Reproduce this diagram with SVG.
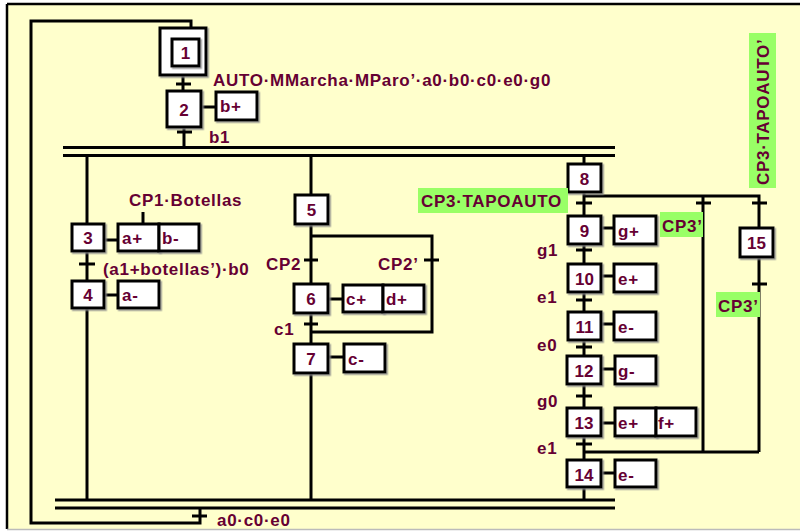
<svg xmlns="http://www.w3.org/2000/svg" width="800" height="531" viewBox="0 0 800 531">
<defs>
<filter id="sh" x="-20%" y="-20%" width="150%" height="150%">
<feDropShadow dx="1.5" dy="1.5" stdDeviation="0.4" flood-color="#888" flood-opacity="0.8"/>
</filter>
</defs>
<style>
.bx{fill:#fff;stroke:#000;stroke-width:3;filter:url(#sh)}
.ln{fill:none;stroke:#000;stroke-width:3}
.tk{fill:none;stroke:#000;stroke-width:3}
.t{font-family:"Liberation Sans",Arial,sans-serif;font-weight:bold;font-size:17px;fill:#660033;letter-spacing:0.7px}
.n{text-anchor:middle;letter-spacing:0}
.g{fill:#99FF66}
</style>
<rect x="0" y="0" width="800" height="531" fill="#fff"/>
<rect x="7" y="4" width="800" height="525" fill="#FFFFCC"/>
<line x1="7" y1="4" x2="800" y2="4" stroke="#000" stroke-width="2.5"/>
<line x1="7" y1="4" x2="7" y2="529" stroke="#000" stroke-width="2.5"/>
<line x1="7" y1="529.5" x2="800" y2="529.5" stroke="#bbb" stroke-width="1.5"/>

<g id="connectors">
<polyline class="ln" points="200,509 200,523 31,523 31,21 191,21 191,28"/>
<line class="tk" x1="192" y1="516" x2="207" y2="516"/>
<line class="ln" x1="183" y1="75" x2="183" y2="91"/>
<line class="tk" x1="176" y1="84" x2="191" y2="84"/>
<line class="ln" x1="184" y1="127" x2="184" y2="147"/>
<line class="tk" x1="177" y1="132" x2="192" y2="132"/>
<line class="ln" x1="201" y1="107" x2="216" y2="107"/>
<line class="ln" x1="63" y1="147.5" x2="615" y2="147.5"/>
<line class="ln" x1="63" y1="155.5" x2="615" y2="155.5"/>
<line class="ln" x1="87" y1="155" x2="87" y2="224"/>
<line class="ln" x1="87" y1="251" x2="87" y2="281"/>
<line class="ln" x1="87" y1="308" x2="87" y2="500"/>
<line class="tk" x1="79" y1="264" x2="95" y2="264"/>
<line class="ln" x1="104" y1="240" x2="118" y2="240"/>
<line class="ln" x1="104" y1="295" x2="118" y2="295"/>
<line class="ln" x1="143" y1="212" x2="143" y2="224"/>
<line class="ln" x1="311" y1="155" x2="311" y2="195"/>
<line class="ln" x1="311" y1="224" x2="311" y2="284"/>
<line class="ln" x1="311" y1="313" x2="311" y2="344"/>
<line class="ln" x1="311" y1="373" x2="311" y2="500"/>
<polyline class="ln" points="311,236 432,236 432,332 311,332"/>
<line class="tk" x1="304" y1="260" x2="318" y2="260"/>
<line class="tk" x1="424" y1="260" x2="439" y2="260"/>
<line class="tk" x1="304" y1="324" x2="318" y2="324"/>
<line class="ln" x1="328" y1="299" x2="343" y2="299"/>
<line class="ln" x1="328" y1="357" x2="344" y2="357"/>
<line class="ln" x1="584" y1="155" x2="584" y2="164"/>
<line class="ln" x1="584" y1="192" x2="584" y2="500"/>
<polyline class="ln" points="584,196 759,196 759,228"/>
<line class="ln" x1="703" y1="196" x2="703" y2="452"/>
<line class="ln" x1="759" y1="257" x2="759" y2="452"/>
<line class="ln" x1="584" y1="452" x2="759" y2="452"/>
<line class="tk" x1="576" y1="203" x2="592" y2="203"/>
<line class="tk" x1="696" y1="203" x2="711" y2="203"/>
<line class="tk" x1="752" y1="203" x2="767" y2="203"/>
<line class="tk" x1="752" y1="284" x2="767" y2="284"/>
<line class="tk" x1="576" y1="250" x2="592" y2="250"/>
<line class="tk" x1="576" y1="300" x2="592" y2="300"/>
<line class="tk" x1="576" y1="347" x2="592" y2="347"/>
<line class="tk" x1="576" y1="396" x2="592" y2="396"/>
<line class="tk" x1="576" y1="444" x2="592" y2="444"/>
<line class="ln" x1="601" y1="228" x2="614" y2="228"/>
<line class="ln" x1="601" y1="276" x2="614" y2="276"/>
<line class="ln" x1="601" y1="324" x2="614" y2="324"/>
<line class="ln" x1="601" y1="369" x2="615" y2="369"/>
<line class="ln" x1="601" y1="423" x2="615" y2="423"/>
<line class="ln" x1="601" y1="473" x2="615" y2="473"/>
<line class="ln" x1="55" y1="500" x2="615" y2="500"/>
<line class="ln" x1="55" y1="508" x2="615" y2="508"/>
</g>

<g id="step1"><rect class="bx" x="160" y="28" width="46" height="47"/><rect class="bx" x="172" y="39" width="27" height="27"/><text class="t n" x="185.5" y="59">1</text></g>
<g id="step2"><rect class="bx" x="167" y="91" width="34" height="36"/><text class="t n" x="184" y="116">2</text></g>
<g id="act2"><rect class="bx" x="216" y="92" width="41" height="28"/><text class="t" x="220" y="112">b+</text></g>
<g id="step3"><rect class="bx" x="72" y="224" width="32" height="27"/><text class="t n" x="88" y="243.5">3</text></g>
<g id="act3"><rect class="bx" x="118" y="224" width="41" height="27"/><rect class="bx" x="159" y="224" width="40" height="27"/><text class="t" x="122" y="243.5">a+</text><text class="t" x="162" y="243.5">b-</text></g>
<g id="step4"><rect class="bx" x="72" y="281" width="32" height="27"/><text class="t n" x="88" y="300.5">4</text></g>
<g id="act4"><rect class="bx" x="118" y="281" width="41" height="27"/><text class="t" x="122" y="300.5">a-</text></g>
<g id="step5"><rect class="bx" x="295" y="195" width="33" height="29"/><text class="t n" x="311.5" y="216">5</text></g>
<g id="step6"><rect class="bx" x="294" y="284" width="34" height="29"/><text class="t n" x="311" y="304.5">6</text></g>
<g id="act6"><rect class="bx" x="343" y="285" width="40" height="27"/><rect class="bx" x="383" y="285" width="41" height="27"/><text class="t" x="346" y="305">c+</text><text class="t" x="386" y="305">d+</text></g>
<g id="step7"><rect class="bx" x="294" y="344" width="34" height="29"/><text class="t n" x="311" y="365">7</text></g>
<g id="act7"><rect class="bx" x="344" y="344" width="41" height="28"/><text class="t" x="348" y="364.5">c-</text></g>
<g id="step8"><rect class="bx" x="568" y="164" width="33" height="28"/><text class="t n" x="584.5" y="184.5">8</text></g>
<g id="step9"><rect class="bx" x="568" y="216" width="33" height="28"/><text class="t n" x="584.5" y="236.5">9</text></g>
<g id="act9"><rect class="bx" x="614" y="216" width="42" height="28"/><text class="t" x="618" y="236.5">g+</text></g>
<g id="step10"><rect class="bx" x="568" y="264" width="33" height="28"/><text class="t n" x="584.5" y="284.5">10</text></g>
<g id="act10"><rect class="bx" x="614" y="264" width="42" height="28"/><text class="t" x="618" y="284.5">e+</text></g>
<g id="step11"><rect class="bx" x="568" y="312" width="33" height="28"/><text class="t n" x="584.5" y="332.5">11</text></g>
<g id="act11"><rect class="bx" x="614" y="312" width="42" height="28"/><text class="t" x="618" y="332.5">e-</text></g>
<g id="step12"><rect class="bx" x="567" y="356" width="34" height="28"/><text class="t n" x="584" y="376.5">12</text></g>
<g id="act12"><rect class="bx" x="615" y="356" width="41" height="28"/><text class="t" x="618" y="376.5">g-</text></g>
<g id="step13"><rect class="bx" x="567" y="408" width="34" height="28"/><text class="t n" x="584" y="429">13</text></g>
<g id="act13"><rect class="bx" x="615" y="408" width="41" height="28"/><rect class="bx" x="656" y="408" width="40" height="28"/><text class="t" x="618" y="429">e+</text><text class="t" x="658" y="429">f+</text></g>
<g id="step14"><rect class="bx" x="567" y="460" width="34" height="27"/><text class="t n" x="584" y="480.5">14</text></g>
<g id="act14"><rect class="bx" x="615" y="460" width="41" height="27"/><text class="t" x="618" y="480.5">e-</text></g>
<g id="step15"><rect class="bx" x="740" y="228" width="33" height="29"/><text class="t n" x="756.5" y="249">15</text></g>

<g id="labels">
<text class="t" x="213" y="86">AUTO·MMarcha·MParo’·a0·b0·c0·e0·g0</text>
<text class="t" x="209" y="143">b1</text>
<text class="t" x="129" y="206">CP1·Botellas</text>
<text class="t" x="103" y="275">(a1+botellas’)·b0</text>
<text class="t" x="266" y="270">CP2</text>
<text class="t" x="378" y="270">CP2’</text>
<text class="t" x="274" y="335">c1</text>
<text class="t" x="537" y="256">g1</text>
<text class="t" x="537" y="303">e1</text>
<text class="t" x="537" y="351">e0</text>
<text class="t" x="537" y="407">g0</text>
<text class="t" x="537" y="454">e1</text>
<text class="t" x="217" y="526">a0·c0·e0</text>
<rect class="g" x="418" y="188" width="150" height="25"/>
<text class="t" x="421" y="207">CP3·TAPOAUTO</text>
<rect class="g" x="660" y="212" width="43" height="25"/>
<text class="t" x="662" y="232">CP3’</text>
<rect class="g" x="716" y="292" width="44" height="25"/>
<text class="t" x="718" y="312">CP3’</text>
<rect class="g" x="749" y="33" width="27" height="155"/>
<text class="t" transform="translate(769,185) rotate(-90)">CP3·TAPOAUTO’</text>
</g>
</svg>
